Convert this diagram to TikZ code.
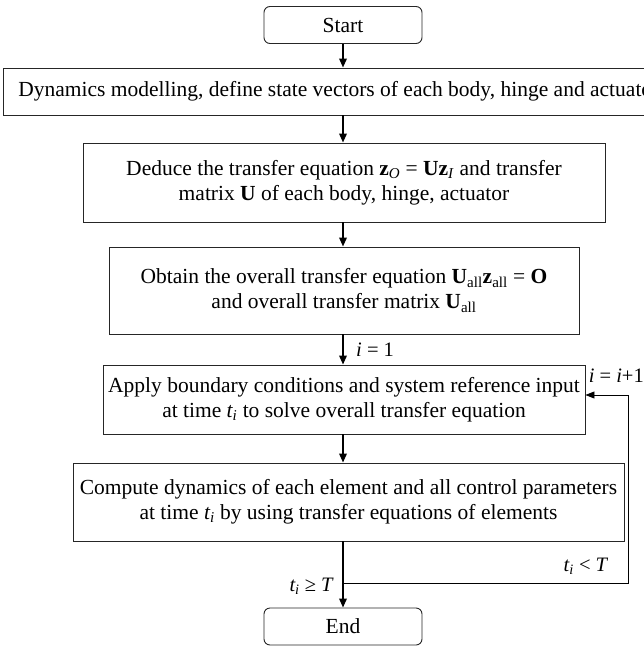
\documentclass[tikz,border=0pt]{standalone}
\usepackage{fontspec}
\setmainfont{Liberation Serif}
\usetikzlibrary{arrows.meta}
\tikzset{
  every node/.style={
    inner sep=0pt,
    align=center,
    font=\fontsize{21.5}{25}\selectfont
  },
  stepbox/.style={
    draw=black!85,
    line width=0.9pt
  },
  termbox/.style={
    stepbox,
    rounded corners=6pt,
    minimum width=158pt,
    minimum height=37pt
  },
  flow/.style={
    line width=1.8pt,
    -{Triangle[length=9pt,width=7.5pt]}
  },
  back/.style={
    line width=0.9pt,
    -{Triangle[length=9pt,width=7pt]}
  },
  lbl/.style={
    font=\fontsize{20.5}{25}\selectfont
  }
}

\begin{document}
\begin{tikzpicture}[x=1pt,y=-1pt]
    \useasboundingbox (0,0) rectangle (644,647);
    \clip (0,0) rectangle (644,647);

    \node[termbox] (start) at (343,25) {Start};
    \node[stepbox, minimum width=680pt, minimum height=47pt] (model) at (343,91.5)
      {Dynamics modelling, define state vectors of each body, hinge and actuators};
    \node[stepbox, minimum width=522pt, minimum height=79pt] (deduce) at (344,182.5)
      {Deduce the transfer equation \textbf{z}\textsubscript{\textit{O}} = \textbf{Uz}\textsubscript{\textit{I}} and transfer\\
       matrix \textbf{U} of each body, hinge, actuator};
    \node[stepbox, minimum width=470pt, minimum height=87pt] (overall) at (344,290.5)
      {Obtain the overall transfer equation \textbf{U}\textsubscript{all}\textbf{z}\textsubscript{all} = \textbf{O}\\
       and overall transfer matrix \textbf{U}\textsubscript{all}};
    \node[stepbox, minimum width=482pt, minimum height=69pt] (apply) at (344,399.5)
      {Apply boundary conditions and system reference input\\
       at time \textit{t\textsubscript{i}} to solve overall transfer equation};
    \node[stepbox, minimum width=551pt, minimum height=78pt] (compute) at (348.5,502)
      {Compute dynamics of each element and all control parameters\\
       at time \textit{t\textsubscript{i}} by using transfer equations of elements};
    \node[termbox] (finish) at (343,626.5) {End};

    % main flow
    \draw[flow] (start) -- (model);
    \draw[flow] (model.south -| start) -- (deduce.north -| start);
    \draw[flow] (deduce.south -| start) -- (overall.north -| start);
    \draw[flow] (overall.south -| start) -- (apply.north -| start);
    \draw[flow] (apply.south -| start) -- (compute.north -| start);
    \draw[flow] (compute.south -| start) -- (finish);

    % loop back
    \coordinate (split) at (343,583);
    \coordinate (corner) at (628,583);
    \draw[back] (split) -- (corner) |- ([yshift=4.5pt]apply.east);

    \node[lbl, anchor=west] (init) at (356,350) {\textit{i} = 1};
    \node[lbl, anchor=east] (incr) at (644,376) {\textit{i} = \textit{i}+1};
    \node[lbl] (less) at (586,566) {\textit{t\textsubscript{i}} < \textit{T}};
    \node[lbl, anchor=east] (geq) at (334,586) {\textit{t\textsubscript{i}} ≥ \textit{T}};
\end{tikzpicture}
\end{document}
